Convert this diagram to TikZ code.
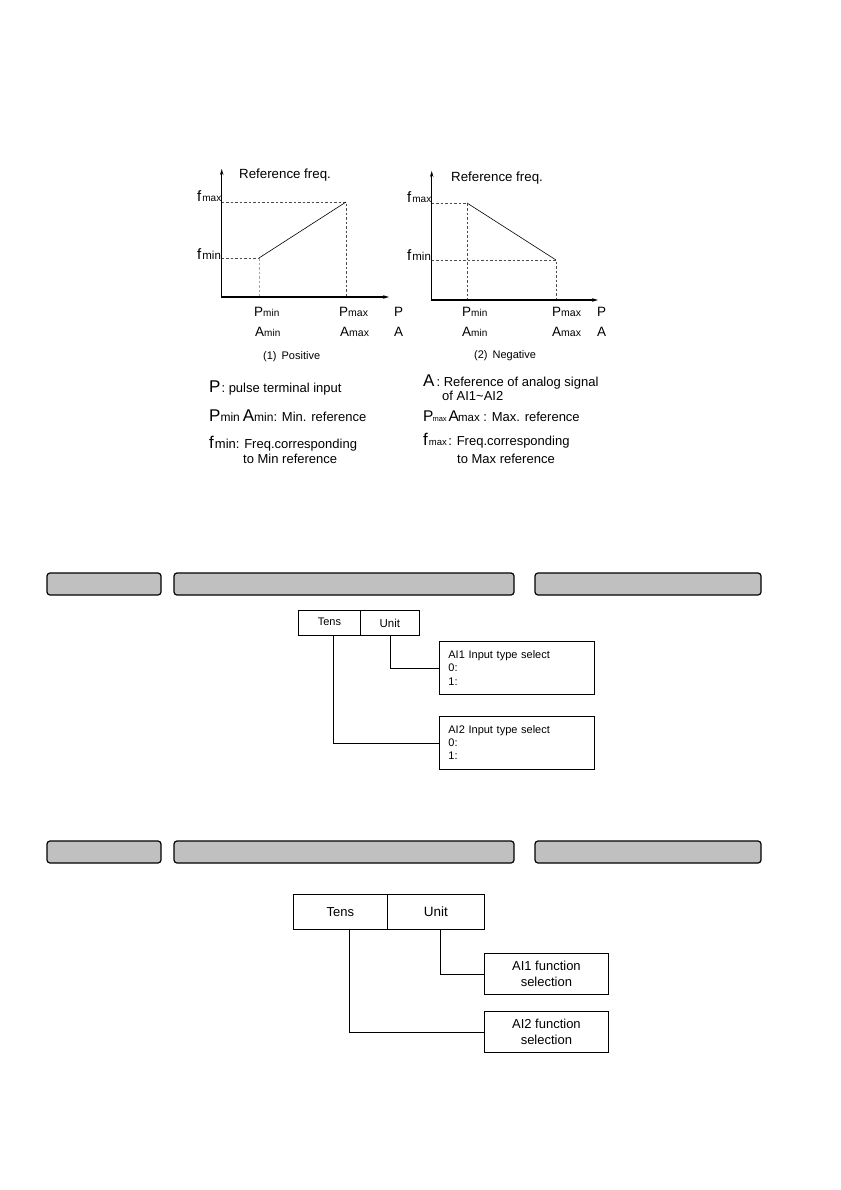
\documentclass[tikz,border=0pt]{standalone}
\usepackage{fontspec}
\setmainfont{Liberation Sans}
\usetikzlibrary{arrows.meta}
\newcommand\fsz[1]{\fontsize{#1}{#1}\selectfont}
\begin{document}
\begin{tikzpicture}[x=1pt,y=-1pt,
  axisline/.style={line width=1.1pt,{Stealth[length=6pt,width=3.5pt]}-{Stealth[length=6pt,width=3.5pt]}},
  dsh/.style={dash pattern=on 2.5pt off 2pt,line width=0.6pt,black!70},
  dshl/.style={dsh,black!35},
  curveline/.style={line width=0.6pt},
  lbl/.style={anchor=base west,inner sep=0pt},
  bar/.style={draw,line width=1.2pt,rounded corners=3pt,fill={rgb,255:red,192;green,192;blue,192}},
  cell/.style={draw,line width=0.8pt,inner sep=0pt,anchor=north west},
  conn/.style={line width=0.8pt},
  infobox/.style={draw,line width=0.8pt,anchor=north west,align=left,inner xsep=9pt,inner ysep=0pt},
  funcbox/.style={draw,line width=0.8pt,anchor=north west,align=center,inner sep=0pt,minimum width=124pt,minimum height=41pt,font=\fontsize{13}{15.5}\selectfont}
]
\useasboundingbox[fill=white] (0,0) rectangle (840,1190);

% ---------- graph 1 ----------
\draw[dsh] (221.7,202) -- (346,202) -- (346,297);
\draw[dsh] (221.7,258) -- (259,258);
\draw[dshl] (259,258) -- (259,297);
\draw[curveline] (259,258) -- (346,202);
\draw[axisline] (221.7,169) -- (221.7,297) -- (389,297);
\node[lbl] (g1title) at (239,179) {\fsz{13.3}Reference freq.};
\node[lbl] (g1fmax) at (197,202) {\fsz{15}f\kern1pt\fsz{10}max};
\node[lbl] (g1fmin) at (197,259) {\fsz{15}f\kern1pt\fsz{11.5}min};
\node[lbl] (g1pmin) at (254,316) {\fsz{13.5}P\fsz{10}min};
\node[lbl] (g1amin) at (255,336) {\fsz{13.5}A\fsz{10}min};
\node[lbl] (g1pmax) at (339,316) {\fsz{13.5}P\fsz{10.5}max};
\node[lbl] (g1amax) at (340,336) {\fsz{13.5}A\fsz{10.5}max};
\node[lbl] (g1p) at (394,316) {\fsz{13.5}P};
\node[lbl] (g1a) at (394,336) {\fsz{13.5}A};
\node[lbl] (g1cap) at (263,359) {\fsz{11}(1)\hspace{5pt}Positive};

% ---------- graph 2 ----------
\draw[dsh] (431.7,203) -- (467,203) -- (467,300);
\draw[dsh] (431.7,260) -- (556,260) -- (556,300);
\draw[curveline] (467,203) -- (556,260);
\draw[axisline] (431.7,171) -- (431.7,300) -- (598,300);
\node[lbl] (g2title) at (451,182) {\fsz{13.3}Reference freq.};
\node[lbl] (g2fmax) at (407,203) {\fsz{15}f\kern1pt\fsz{10}max};
\node[lbl] (g2fmin) at (407,260) {\fsz{15}f\kern1pt\fsz{11.5}min};
\node[lbl] (g2pmin) at (462,316) {\fsz{13.5}P\fsz{10}min};
\node[lbl] (g2amin) at (462,336) {\fsz{13.5}A\fsz{10}min};
\node[lbl] (g2pmax) at (552,316) {\fsz{13.5}P\fsz{10.5}max};
\node[lbl] (g2amax) at (552,336) {\fsz{13.5}A\fsz{10.5}max};
\node[lbl] (g2p) at (597,316) {\fsz{13.5}P};
\node[lbl] (g2a) at (597,336) {\fsz{13.5}A};
\node[lbl] (g2cap) at (474,358) {\fsz{11}(2)\hspace{5pt}Negative};

% ---------- legend ----------
\node[lbl] (lg1) at (209,392) {\fsz{17}P\kern1pt\fsz{13}: pulse terminal input};
\node[lbl] (lg2) at (209,421) {\fsz{17}P\fsz{12}min\kern3pt\fsz{17}A\fsz{12}min\fsz{13}: Min. reference};
\node[lbl] (lg3) at (209,448) {\fsz{17}f\kern1pt\fsz{13}min: Freq.corresponding};
\node[lbl] (lg4) at (243,463) {\fsz{13}to Min reference};
\node[lbl] (lg5) at (423,386) {\fsz{17}A\kern2pt\fsz{13}: Reference of analog signal};
\node[lbl] (lg6) at (442,400) {\fsz{13}of AI1\textasciitilde AI2};
\node[lbl] (lg7) at (423,421) {\fsz{15.5}P\kern-1pt\fsz{7.5}max\kern2pt\fsz{15.5}A\kern-1pt\fsz{11.5}max\fsz{13} : Max. reference};
\node[lbl] (lg8) at (423,445) {\fsz{17}f\kern1pt\fsz{9.5}max\kern1.5pt\fsz{13}: Freq.corresponding};
\node[lbl] (lg9) at (457,463) {\fsz{13}to Max reference};

% ---------- bars ----------
\draw[bar] (47,573) rectangle (161,595);
\draw[bar] (174,573) rectangle (514,595);
\draw[bar] (535,573) rectangle (761,595);
\draw[bar] (47,841) rectangle (161,863);
\draw[bar] (174,841) rectangle (514,863);
\draw[bar] (535,841) rectangle (761,863);

% ---------- box diagram 1 ----------
\node[cell,minimum width=62pt,minimum height=25pt] (tens1) at (298,610) {\fsz{11}\raisebox{3pt}{Tens}};
\node[cell,minimum width=59pt,minimum height=25pt] (unit1) at (360,610) {\fsz{11.5}Unit};
\node[infobox,minimum width=155pt,minimum height=53pt,text width=137pt,font=\fontsize{11}{13.5}\selectfont] (ai1) at (439,641) {AI1 Input type select\\0:\\1:};
\node[infobox,minimum width=155pt,minimum height=53pt,text width=137pt,font=\fontsize{11}{13}\selectfont] (ai2) at (439,716) {AI2 Input type select\\0:\\1:};
\draw[conn] (unit1.south) |- (ai1.west);
\draw[conn] ([xshift=4pt]tens1.south) |- (ai2.west);

% ---------- box diagram 2 ----------
\node[cell,minimum width=94pt,minimum height=35pt] (tens2) at (293,894) {\fsz{13}Tens};
\node[cell,minimum width=97pt,minimum height=35pt] (unit2) at (387,894) {\fsz{13.5}Unit};
\node[funcbox] (fn1) at (484,953) {AI1 function\\selection};
\node[funcbox] (fn2) at (484,1011) {AI2 function\\selection};
\draw[conn] ([xshift=4.5pt]unit2.south) |- (fn1.west);
\draw[conn] ([xshift=9pt]tens2.south) |- (fn2.west);
\end{tikzpicture}
\end{document}
